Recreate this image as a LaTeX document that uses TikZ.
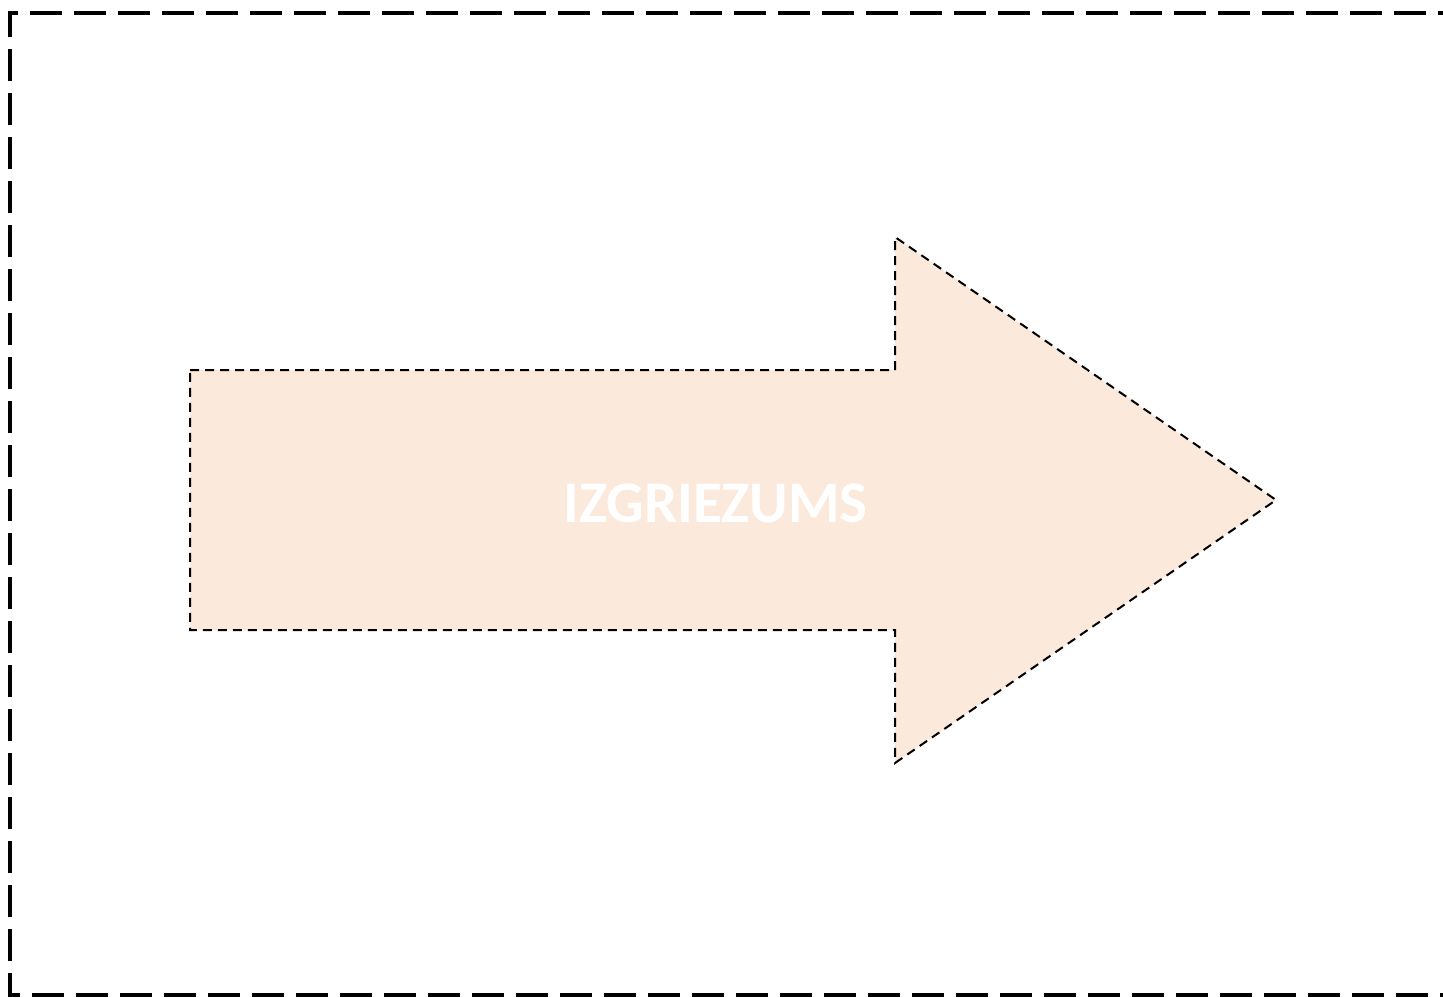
\documentclass[tikz,border=0pt]{standalone}
\usepackage{fontspec}
\setmainfont{Carlito}
\definecolor{peach}{RGB}{251,233,219}
\begin{document}
\begin{tikzpicture}[x=0.5pt,y=-0.5pt]
        \tikzstyle{frame} = [draw=black, line width=2pt, dash pattern=on 16pt off 6pt]
        \tikzstyle{arr} = [draw=black, fill=peach, line width=1pt, dash pattern=on 4.5pt off 3pt]
        \tikzstyle{lbl} = [text=white, font=\bfseries\fontsize{29.5}{34}\selectfont, inner sep=0pt]

        \useasboundingbox (0,0) rectangle (1443,997);
        \clip (0,0) rectangle (1443,997);

        \draw[frame] (1470,13) -- (10,13) -- (10,995) -- (1470,995);

        \draw[arr] (190,370) -- (895,370) -- (895,237) -- (1276,500)
        -- (895,763) -- (895,630) -- (190,630) -- cycle;
        \node(cut) [lbl] at (715.5,503.5) {IZGRIEZUMS};
    \end{tikzpicture}
\end{document}
